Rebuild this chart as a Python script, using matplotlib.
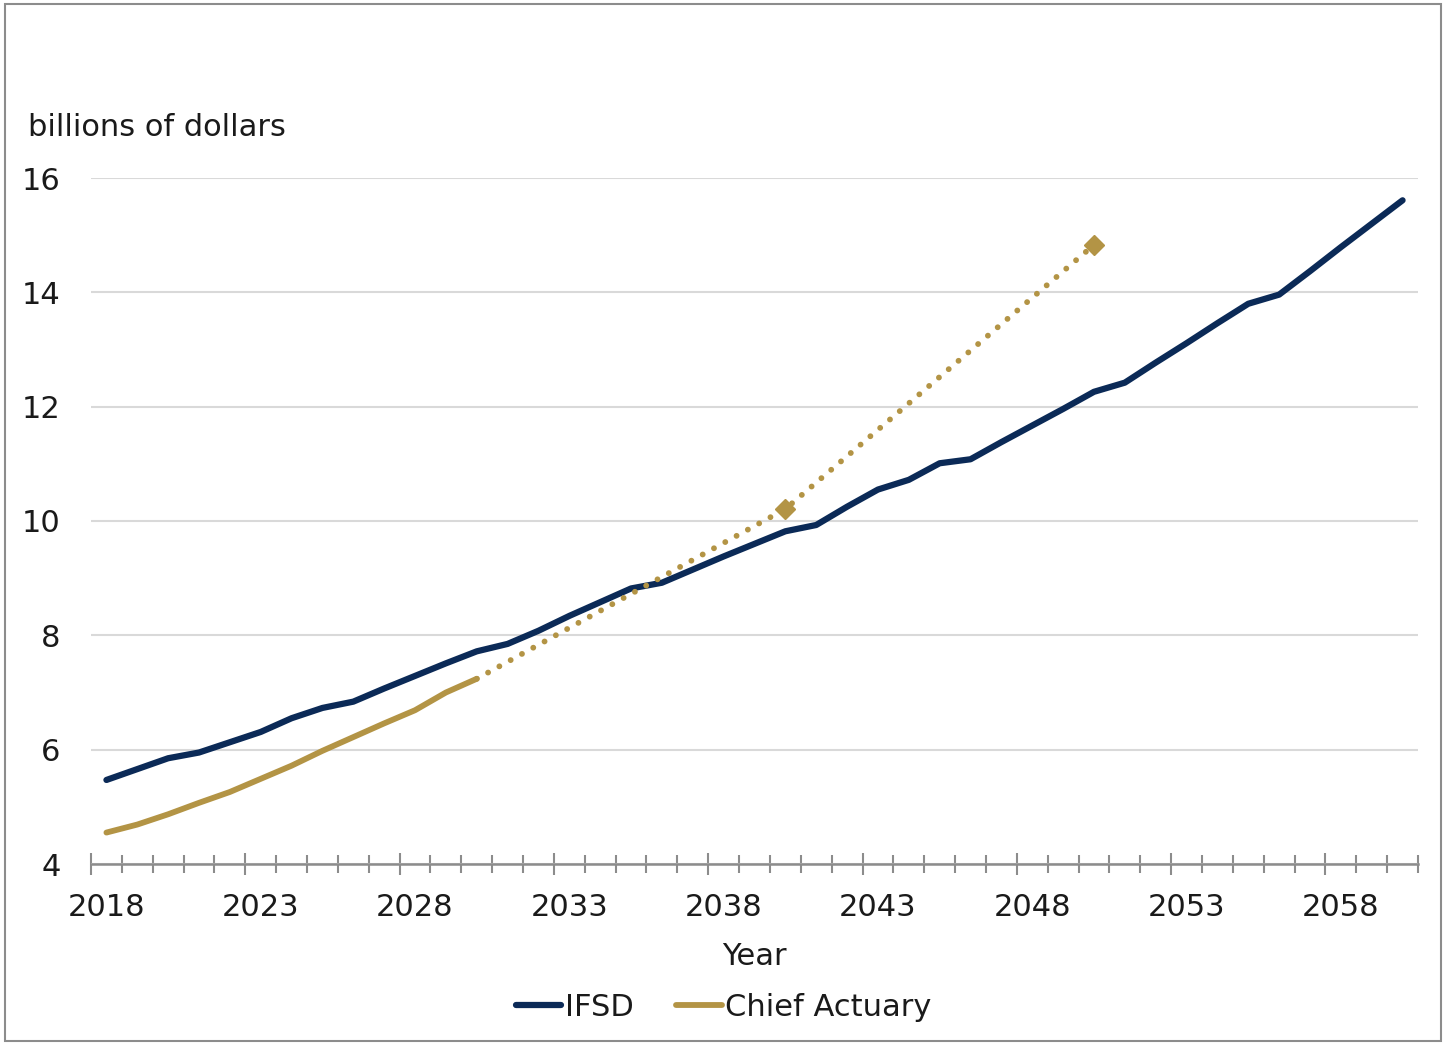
import matplotlib
matplotlib.use("Agg")
import matplotlib.pyplot as plt
from matplotlib.patches import Rectangle
from matplotlib.lines import Line2D
import numpy as np

years = list(range(2018, 2061))
ifsd = [5.47, 5.66, 5.85, 5.95, 6.13, 6.31, 6.55, 6.73, 6.84, 7.07, 7.29, 7.51, 7.72,
        7.85, 8.08, 8.34, 8.58, 8.82, 8.92, 9.15, 9.38, 9.60, 9.82, 9.93, 10.25, 10.55,
        10.72, 11.01, 11.08, 11.38, 11.67, 11.96, 12.26, 12.42, 12.77, 13.11, 13.46,
        13.80, 13.96, 14.37, 14.79, 15.20, 15.61]
ca_years = list(range(2018, 2031))
chief_actuary = [4.55, 4.69, 4.87, 5.07, 5.26, 5.49, 5.72, 5.98, 6.22, 6.46, 6.69, 7.00, 7.24]
proj_years = [2030, 2040, 2050]
chief_actuary_proj = [7.24, 10.21, 14.83]
tick_label_years = [2018, 2023, 2028, 2033, 2038, 2043, 2048, 2053, 2058]
y_ticks = [4, 6, 8, 10, 12, 14, 16]

NAVY = "#0B2A57"
GOLD = "#B39445"
TXT = "#1a1a1a"
FS = 22
plt.rcParams['font.family'] = ["DejaVu Sans"]

W, H = 1447, 1044
fig = plt.figure(figsize=(W / 100, H / 100), dpi=100)
ax = fig.add_axes([91 / W, 1 - 864 / H, (1418 - 91) / W, (864 - 178) / H])

idx = {y: i for i, y in enumerate(years)}
x_ifsd = [idx[y] for y in years]
x_ca = [idx[y] for y in ca_years]
x_proj = [idx[y] for y in proj_years]

ax.plot(x_ifsd, ifsd, color=NAVY, lw=4.5, solid_capstyle='round', solid_joinstyle='round', zorder=3)
ax.plot(x_ca, chief_actuary, color=GOLD, lw=4.2, solid_capstyle='round', solid_joinstyle='round', zorder=3)
ax.plot(x_proj, chief_actuary_proj, color=GOLD, lw=4.2, linestyle=(0, (0.01, 2.2)),
        dash_capstyle='round', zorder=3)
ax.plot(x_proj[1:], chief_actuary_proj[1:], linestyle='none', marker='D', ms=10.5,
        color=GOLD, zorder=4)

ax.set_xlim(-0.5, len(years) - 0.5)
ax.set_ylim(4, 16)
ax.set_yticks(y_ticks)
ax.set_yticklabels([str(v) for v in y_ticks])
ax.yaxis.grid(True, color="#D9D9D9", lw=1.5)
ax.set_axisbelow(True)
ax.tick_params(axis='y', length=0, pad=22, labelsize=FS, labelcolor=TXT)

for s in ['top', 'right', 'left']:
    ax.spines[s].set_visible(False)
ax.spines['bottom'].set_color("#8C8C8C")
ax.spines['bottom'].set_linewidth(1.8)

bounds = np.arange(-0.5, len(years), 1.0)
major_b = [b for i, b in enumerate(bounds) if i % 5 == 0]
minor_b = [b for i, b in enumerate(bounds) if i % 5 != 0]
ax.set_xticks(major_b)
ax.set_xticklabels([])
ax.set_xticks(minor_b, minor=True)
ax.tick_params(axis='x', which='major', direction='inout', length=16, width=1.5, color="#8C8C8C")
ax.tick_params(axis='x', which='minor', direction='inout', length=13, width=1.5, color="#8C8C8C")

sec = ax.secondary_xaxis('bottom')
sec.set_xticks([idx[y] for y in tick_label_years])
sec.set_xticklabels([str(y) for y in tick_label_years])
sec.tick_params(length=0, pad=21, labelsize=FS, labelcolor=TXT)
sec.spines['bottom'].set_visible(False)
sec.set_xlabel("Year", fontsize=FS, color=TXT, labelpad=14)

fig.text(28 / W, 1 - 127 / H, "billions of dollars", fontsize=FS, color=TXT,
         ha='left', va='center')

handles = [Line2D([], [], color=NAVY, lw=4.5, solid_capstyle='round'),
           Line2D([], [], color=GOLD, lw=4.2, solid_capstyle='round')]
fig.legend(handles, ["IFSD", "Chief Actuary"], loc='center', bbox_to_anchor=(0.5, 1 - 1007 / H),
           ncol=2, frameon=False, fontsize=FS, handlelength=1.5, handletextpad=0.1,
           columnspacing=1.4, labelcolor=TXT)

fig.patches.append(Rectangle((5 / W, 3 / H), (1441 - 5) / W, (1040 - 3) / H,
                             transform=fig.transFigure, fill=False, edgecolor="#8C8C8C", lw=1.5))

fig.savefig("out.png", dpi=100)
